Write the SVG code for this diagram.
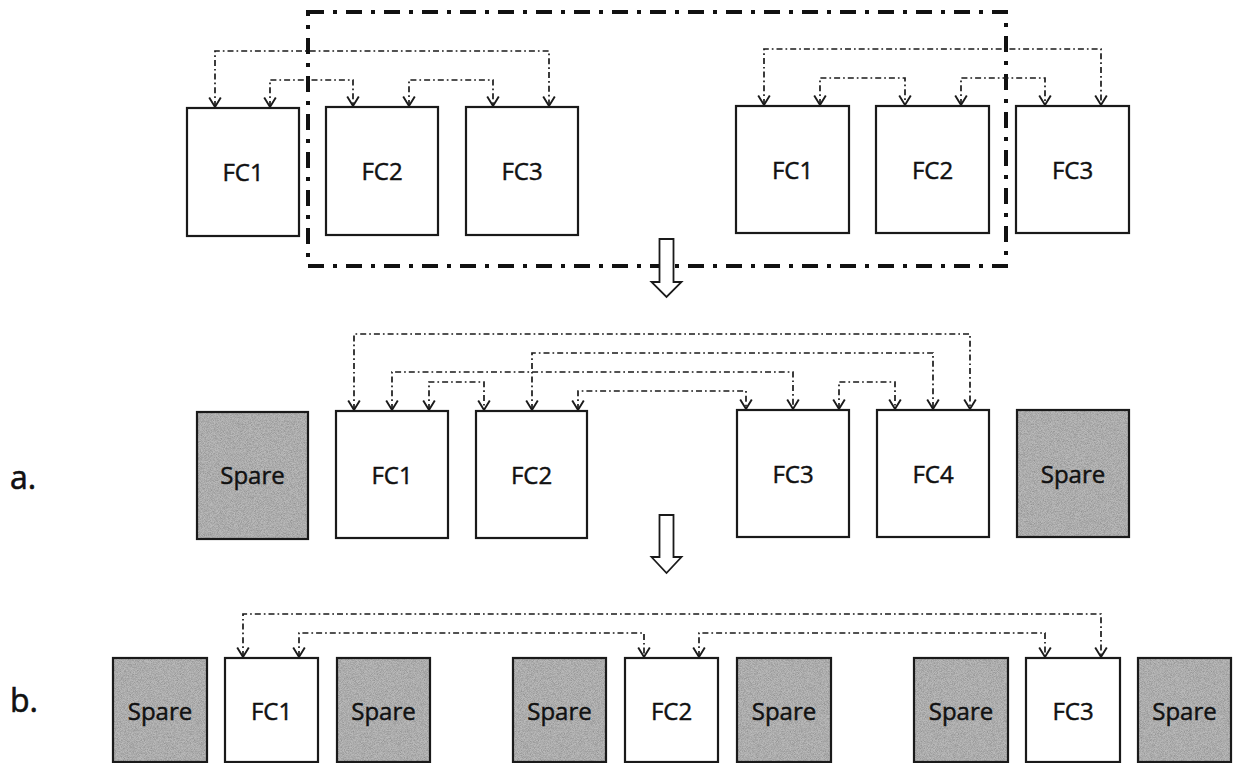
<svg xmlns="http://www.w3.org/2000/svg" width="1233" height="763" viewBox="0 0 1233 763">
  <defs>
    <style>
      .box { fill: #ffffff; stroke: #1a1a1a; stroke-width: 2.2; }
      .spare { fill: #b9b9b9; stroke: #1a1a1a; stroke-width: 2.2; }
      .grain { fill: #000; filter: url(#grain); }
      .lbl { font-family: "Open Sans", "Liberation Sans", sans-serif; font-size: 24px; fill: #111; stroke: #111; stroke-width: 0.45; text-anchor: middle; }
      .tag { font-family: "Open Sans", "Liberation Sans", sans-serif; font-size: 32px; fill: #111; stroke: #111; stroke-width: 0.6; }
      .link { fill: none; stroke: #1a1a1a; stroke-width: 1.7; stroke-dasharray: 6 3 1.7 3;
              marker-start: url(#vee); marker-end: url(#vee); }
      .frame { fill: none; stroke: #111; stroke-width: 4; stroke-dasharray: 16 9 4 9; }
      .step { fill: #ffffff; stroke: #1a1a1a; stroke-width: 1.8; stroke-linejoin: miter; }
    </style>
    <marker id="vee" viewBox="-11 -7 13 14" refX="0" refY="0" markerWidth="13" markerHeight="14"
            markerUnits="userSpaceOnUse" orient="auto-start-reverse">
      <path d="M-9.5,-5.8 L0,0 L-9.5,5.8" fill="none" stroke="#1a1a1a" stroke-width="1.9" stroke-dasharray="none"/>
    </marker>
    <filter id="grain" x="0" y="0" width="100%" height="100%">
      <feTurbulence type="fractalNoise" baseFrequency="1.3" numOctaves="2" seed="7"/>
      <feColorMatrix type="matrix" values="0 0 0 0 0  0 0 0 0 0  0 0 0 0 0  0.4 0 0 0 -0.13"/>
    </filter>
  </defs>

  <rect width="1233" height="763" fill="#ffffff"/>

  <!-- outer grouping frame around the upper sets -->
  <rect id="group-frame" class="frame" x="308" y="12" width="698" height="254"/>

  <!-- upper row, first set -->
  <g id="u1-fc1"><rect class="box" x="187" y="108" width="112" height="128"/><text class="lbl" x="243" y="181">FC1</text></g>
  <g id="u1-fc2"><rect class="box" x="326" y="107" width="112" height="128"/><text class="lbl" x="382" y="180">FC2</text></g>
  <g id="u1-fc3"><rect class="box" x="466" y="107" width="112" height="128"/><text class="lbl" x="522" y="180">FC3</text></g>

  <!-- upper row, second set -->
  <g id="u2-fc1"><rect class="box" x="736" y="106" width="113" height="127"/><text class="lbl" x="792.5" y="179">FC1</text></g>
  <g id="u2-fc2"><rect class="box" x="876" y="106" width="113" height="127"/><text class="lbl" x="932.5" y="179">FC2</text></g>
  <g id="u2-fc3"><rect class="box" x="1016" y="106" width="113" height="127"/><text class="lbl" x="1072.5" y="179">FC3</text></g>

  <!-- step arrows -->
  <g id="step-1"><polygon class="step" points="659.5,239 673.5,239 673.5,282 681.5,282 666.5,297 651.5,282 659.5,282"/></g>
  <g id="step-2"><polygon class="step" points="659.5,515 673.5,515 673.5,557 681.5,557 666.5,573 651.5,557 659.5,557"/></g>

  <!-- row labels -->
  <text class="tag" x="10" y="489">a.</text>
  <text class="tag" x="10" y="712">b.</text>

  <!-- middle row -->
  <g id="m-spare-l"><rect class="spare" x="197" y="412" width="111" height="127"/><rect class="grain" x="198" y="413" width="109" height="125"/><text class="lbl" x="252.5" y="484">Spare</text></g>
  <g id="m-fc1"><rect class="box" x="336" y="411" width="112" height="127"/><text class="lbl" x="392" y="484">FC1</text></g>
  <g id="m-fc2"><rect class="box" x="476" y="411" width="111" height="127"/><text class="lbl" x="531.5" y="484">FC2</text></g>
  <g id="m-fc3"><rect class="box" x="737" y="410" width="112" height="127"/><text class="lbl" x="793" y="483">FC3</text></g>
  <g id="m-fc4"><rect class="box" x="877" y="410" width="112" height="127"/><text class="lbl" x="933" y="483">FC4</text></g>
  <g id="m-spare-r"><rect class="spare" x="1017" y="410" width="112" height="127"/><rect class="grain" x="1018" y="411" width="110" height="125"/><text class="lbl" x="1073" y="483">Spare</text></g>

  <!-- lower row -->
  <g id="l-spare-1"><rect class="spare" x="113" y="658" width="94" height="104"/><rect class="grain" x="114" y="659" width="92" height="102"/><text class="lbl" x="160" y="720">Spare</text></g>
  <g id="l-fc1"><rect class="box" x="225" y="658" width="93" height="104"/><text class="lbl" x="271.5" y="720">FC1</text></g>
  <g id="l-spare-2"><rect class="spare" x="337" y="658" width="93" height="104"/><rect class="grain" x="338" y="659" width="91" height="102"/><text class="lbl" x="383.5" y="720">Spare</text></g>
  <g id="l-spare-3"><rect class="spare" x="513" y="658" width="93" height="104"/><rect class="grain" x="514" y="659" width="91" height="102"/><text class="lbl" x="559.5" y="720">Spare</text></g>
  <g id="l-fc2"><rect class="box" x="625" y="658" width="93" height="104"/><text class="lbl" x="671.5" y="720">FC2</text></g>
  <g id="l-spare-4"><rect class="spare" x="737" y="658" width="94" height="104"/><rect class="grain" x="738" y="659" width="92" height="102"/><text class="lbl" x="784" y="720">Spare</text></g>
  <g id="l-spare-5"><rect class="spare" x="914" y="658" width="94" height="104"/><rect class="grain" x="915" y="659" width="92" height="102"/><text class="lbl" x="961" y="720">Spare</text></g>
  <g id="l-fc3"><rect class="box" x="1026" y="658" width="94" height="104"/><text class="lbl" x="1073" y="720">FC3</text></g>
  <g id="l-spare-6"><rect class="spare" x="1138" y="658" width="93" height="104"/><rect class="grain" x="1139" y="659" width="91" height="102"/><text class="lbl" x="1184.5" y="720">Spare</text></g>

  <!-- connectors: each link ends in a vee at both box tops -->
  <g id="connectors">
    <path class="link" d="M215,107 V51 H549 V106"/>
    <path class="link" d="M270,107 V80 H353 V106"/>
    <path class="link" d="M409,106 V80 H493 V106"/>

    <path class="link" d="M764,105 V49 H1101 V105"/>
    <path class="link" d="M820,105 V78 H905 V105"/>
    <path class="link" d="M961,105 V78 H1045 V105"/>

    <path class="link" d="M354,410 V334 H970 V409"/>
    <path class="link" d="M532,410 V353 H933 V409"/>
    <path class="link" d="M392,410 V372 H793 V409"/>
    <path class="link" d="M429,410 V382 H484 V410"/>
    <path class="link" d="M578,410 V391 H746 V409"/>
    <path class="link" d="M839,409 V382 H895 V409"/>

    <path class="link" d="M243,657 V614 H1101 V657"/>
    <path class="link" d="M299,657 V633 H644 V657"/>
    <path class="link" d="M699,657 V633 H1045 V657"/>
  </g>
</svg>
